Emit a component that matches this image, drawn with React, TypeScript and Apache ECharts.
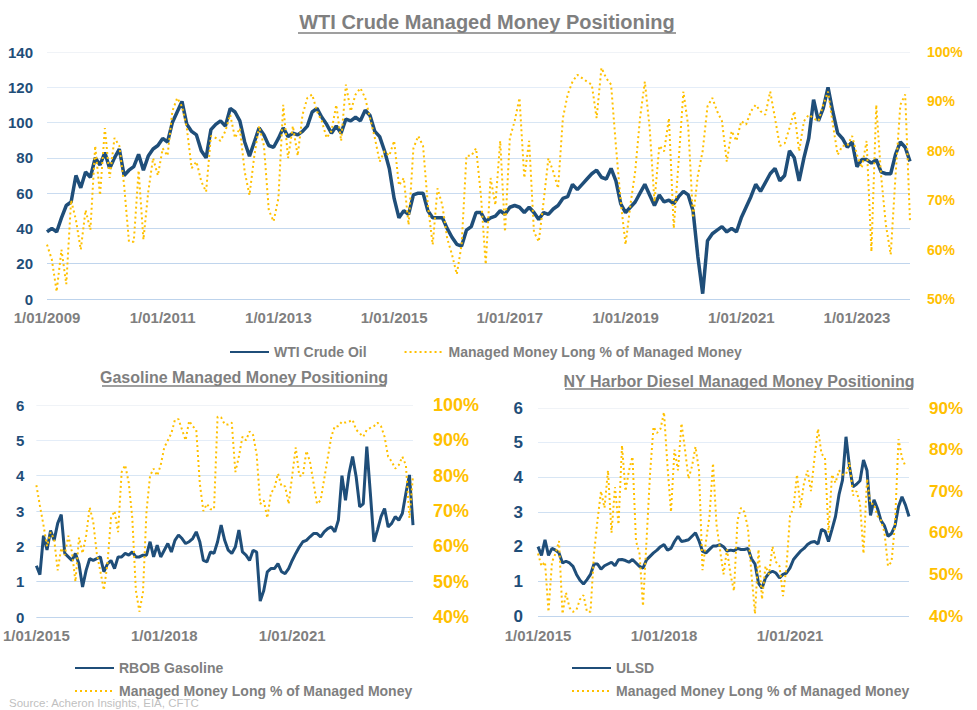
import React, { useEffect, useRef } from "react";
import * as echarts from "echarts";

// ---- WTI (monthly, Jan 2009 - Dec 2023) ----
const wtiPrice = [
  38, 40, 38, 46, 53, 55, 70, 63, 72, 69, 80, 76,
  83, 74, 80, 85, 70, 73, 75, 82, 73, 81, 85, 87,
  91, 89, 100, 106, 112, 99, 95, 93, 84, 80, 96, 99,
  101, 98, 108, 106, 101, 89, 81, 89, 97, 93, 87, 86,
  91, 97, 92, 94, 93, 95, 98, 106, 108, 103, 99, 94,
  98, 94, 102, 101, 103, 101, 107, 104, 95, 92, 84, 74,
  57, 46, 50, 48, 59, 60, 60, 50, 46, 46, 46, 40,
  35, 31, 30, 39, 41, 49, 49, 44, 46, 47, 50, 48,
  52, 53, 52, 49, 52, 49, 45, 49, 48, 51, 53, 57,
  58, 65, 62, 65, 68, 71, 73, 69, 68, 74, 67, 54,
  49, 52, 55, 60, 65, 59, 53, 59, 55, 56, 54, 58,
  61, 59, 50, 24, 3, 33, 37, 39, 41, 38, 40, 38,
  46, 52, 58, 65, 61, 66, 71, 74, 67, 70, 84, 80,
  67, 80, 91, 113, 101, 108, 120, 106, 94, 91, 86, 89,
  75, 79, 79, 77, 79, 72, 71, 71, 82, 89, 86, 78,
];
const wtiPct = [
  61, 58, 51.5, 60, 53, 70, 66, 60, 68, 64, 81, 71,
  84.6, 74.5, 82.6, 81, 73, 61.6, 61.6, 76, 62, 71.7, 78.5, 75,
  80.5, 79, 88, 90.7, 89, 84.6, 76.5, 77.8, 73.8, 71.7, 83, 82.6,
  82, 84, 87.3, 82.6, 84.6, 75.8, 71, 79, 85, 81, 68, 65.7,
  70.4, 89.3, 78.5, 85, 79, 87.3, 90.7, 91.4, 88, 86, 82.6, 84,
  89.3, 82, 93.4, 88, 91.4, 92.7, 90.7, 86.6, 82.6, 77.8, 79.9, 79,
  82, 73, 74.5, 65, 80.5, 83, 81, 69, 61, 72.4, 69, 62.3,
  59, 55, 61, 79, 79, 80.5, 71, 57, 74.5, 69, 82, 63.6,
  82.6, 86, 90.7, 74.5, 82, 63.6, 61.6, 69.7, 78.5, 75.8, 72.4, 86.6,
  91.4, 94, 95.4, 94.7, 94, 93.4, 86.6, 96.8, 94.7, 93.4, 81, 69.7,
  61, 69, 75.8, 86.6, 94, 84.6, 69.7, 81, 79.9, 86.6, 64.3, 77.8,
  92, 85, 66.4, 75, 80, 89, 90.7, 88, 86, 77.8, 84, 82,
  86, 85.3, 88, 89.3, 88, 87.3, 92, 86.6, 81, 81.5, 84.6, 88,
  79.9, 86, 87.3, 86.6, 86, 89.3, 92, 85.3, 79.2, 81, 81, 83,
  79.2, 76.5, 82, 59.6, 89.3, 75, 65, 59, 75, 89.3, 91.4, 65.7,
];

// ---- Gasoline (monthly, Jan 2015 - Nov 2023) ----
const rbobPrice = [
  1.45, 1.2, 2.3, 1.9, 2.45, 2.17, 2.65, 2.9, 1.8, 1.7, 1.6, 1.8,
  1.5, 0.85, 1.32, 1.65, 1.6, 1.65, 1.7, 1.28, 1.5, 1.6, 1.37, 1.7,
  1.7, 1.8, 1.75, 1.84, 1.7, 1.7, 1.75, 1.75, 2.13, 1.7, 2.03, 1.7,
  1.89, 2.08, 1.84, 2.17, 2.32, 2.22, 2.08, 2.13, 2.22, 2.41, 2.13, 1.6,
  1.56, 1.84, 1.8, 2.13, 2.6, 2.17, 1.89, 1.8, 1.98, 2.46, 1.84, 1.75,
  1.6, 1.89, 1.84, 0.45, 0.75, 1.28, 1.37, 1.37, 1.51, 1.28, 1.23, 1.37,
  1.6, 1.8, 1.98, 2.13, 2.17, 2.27, 2.36, 2.36, 2.27, 2.41, 2.5, 2.55,
  2.41, 2.74, 4.0, 3.3, 4.06, 4.54, 3.97, 3.12, 3.2, 4.82, 3.5, 2.13,
  2.46, 2.84, 3.07, 2.55, 2.65, 2.84, 2.74, 2.93, 3.5, 4.02, 2.6,
];
const rbobPct = [
  77.3, 71.5, 66, 60, 64, 62, 53.2, 59.5, 57.5, 63, 58.5, 50,
  62.5, 58, 63, 71, 67, 58, 53, 47.6, 55, 68, 70, 64,
  81, 83, 78, 68, 47.6, 41.5, 47, 70, 80, 82, 80, 83,
  88, 90, 92, 95.8, 96, 93, 90, 95.5, 94, 93, 77.8, 70,
  72, 70.5, 70.5, 96.7, 96.5, 94.5, 94.5, 95, 81, 85.4, 91, 90,
  92.5, 91.5, 86, 72, 73, 68, 75, 76.5, 80.6, 77, 77, 72,
  80, 88, 80, 80, 87, 84, 78, 72, 73, 79, 85, 91,
  94, 94, 95.3, 95, 95.3, 95.8, 93, 92, 91, 93, 93.5, 94,
  95, 94, 91, 85.4, 84, 82, 83, 85.4, 83, 68, 80,
];

// ---- NY Harbor diesel (monthly, Jan 2015 - Nov 2023) ----
const ulsdPrice = [
  2.0, 1.75, 2.2, 1.75, 1.95, 1.9, 1.82, 1.53, 1.58, 1.53, 1.43, 1.2,
  1.03, 0.92, 1.05, 1.2, 1.5, 1.5, 1.35, 1.45, 1.5, 1.55, 1.45, 1.62,
  1.63, 1.6, 1.55, 1.63, 1.53, 1.43, 1.38, 1.62, 1.72, 1.82, 1.9, 2.0,
  2.06, 1.9, 1.95, 2.15, 2.3, 2.15, 2.17, 2.2, 2.3, 2.4, 2.17, 1.87,
  1.82, 1.92, 2.02, 2.02, 2.06, 2.0, 1.87, 1.9, 1.88, 1.95, 1.92, 1.92,
  1.95, 1.65, 1.5, 0.95, 0.8, 1.1, 1.24, 1.29, 1.24, 1.1, 1.2, 1.24,
  1.39, 1.63, 1.75, 1.87, 1.95, 2.06, 2.13, 2.15, 2.08, 2.5, 2.45, 2.15,
  2.5, 2.87, 3.5, 3.92, 5.17, 4.3, 3.73, 3.8, 3.9, 4.5, 4.2, 2.9,
  3.35, 3.1, 2.75, 2.6, 2.3, 2.38, 2.6, 3.16, 3.44, 3.2, 2.87,
];
const ulsdPct = [
  55, 52, 53, 41, 53, 55, 58, 40.5, 45.6, 42, 41, 41.5,
  44, 45, 41, 41, 55, 63, 70, 66, 75, 60, 71, 62,
  81, 70, 75, 78.3, 58, 55, 42.4, 58, 74, 85.5, 84, 85,
  89, 76, 65, 80, 75, 86.3, 80, 73, 76, 80.7, 75, 51,
  58, 64, 76.7, 62, 56, 50, 56, 50, 46, 63, 66, 65,
  61, 50, 40.5, 56, 44, 52, 50, 56.7, 53, 52, 44.8, 52,
  64, 66, 74, 66, 72, 75, 70, 78, 85, 79, 78, 60,
  74, 72, 75, 74, 74, 77, 69, 70, 67, 55, 73, 67,
  67, 64, 63, 60, 52, 53, 62, 82.5, 78, 76, null,
];

const MM = "Managed Money Long % of Managed Money";
const TITLE_MAIN = "WTI Crude Managed Money Positioning";
const TITLE_GAS = "Gasoline Managed Money Positioning";
const TITLE_DSL = "NY Harbor Diesel Managed Money Positioning";
const SOURCE = "Source: Acheron Insights, EIA, CFTC";

function monthLabels(startYear: number, count: number): string[] {
  const out: string[] = [];
  for (let i = 0; i < count; i++) {
    const y = startYear + Math.floor(i / 12);
    const m = (i % 12) + 1;
    out.push(`1/${String(m).padStart(2, "0")}/${y}`);
  }
  return out;
}
const wtiDates = monthLabels(2009, wtiPrice.length);
const fuelDates = monthLabels(2015, rbobPrice.length);

const FONT = 'Arial, "Liberation Sans", Helvetica, sans-serif';
const BLUE = "#1f4e79";
const GOLD = "#ffc000";
const GREY = "#7f7f7f";

function splitColors(n: number): string[] {
  const base = ["#bdd3ec", "#c0d5ed", "#c4d8ee", "#c9dbf0", "#cfe0f2", "#d8e6f4", "#e4edf8", "#f0f3f7"];
  const arr = base.slice(base.length - n);
  arr[arr.length - 1] = "#f0f3f7";
  return arr;
}

function xAxis(gridIndex: number, data: string[], every: number, margin: number) {
  return {
    type: "category",
    gridIndex,
    data,
    boundaryGap: false,
    axisLine: { show: false },
    axisTick: { show: false },
    splitLine: { show: false },
    axisLabel: {
      interval: (i: number) => i % every === 0,
      color: GREY,
      fontSize: 15,
      fontWeight: "bold",
      fontFamily: FONT,
      margin,
    },
  };
}

function yLeft(gridIndex: number, max: number, interval: number, fontSize: number, margin: number) {
  const n = max / interval + 1;
  return {
    type: "value",
    gridIndex,
    position: "left",
    min: 0,
    max,
    interval,
    axisLine: { show: false },
    axisTick: { show: false },
    axisLabel: { color: BLUE, fontSize, fontWeight: "bold", fontFamily: FONT, margin },
    splitLine: { show: true, lineStyle: { color: splitColors(n), width: 1 } },
  };
}

function yRight(gridIndex: number, min: number, max: number, fontSize: number, margin: number) {
  return {
    type: "value",
    gridIndex,
    position: "right",
    min,
    max,
    interval: 10,
    axisLine: { show: false },
    axisTick: { show: false },
    axisLabel: { formatter: "{value}%", color: GOLD, fontSize, fontWeight: "bold", fontFamily: FONT, margin },
    splitLine: { show: false },
  };
}

function priceSeries(name: string, idx: number, data: (number | null)[], width: number) {
  return {
    type: "line",
    name,
    xAxisIndex: idx,
    yAxisIndex: idx * 2,
    data,
    symbol: "none",
    showSymbol: false,
    lineStyle: { color: BLUE, width },
    itemStyle: { color: BLUE },
    z: 2,
  };
}
function pctSeries(idx: number, data: (number | null)[]) {
  return {
    type: "line",
    name: MM,
    xAxisIndex: idx,
    yAxisIndex: idx * 2 + 1,
    data,
    symbol: "none",
    showSymbol: false,
    lineStyle: { color: GOLD, width: 2, type: [2, 3] },
    itemStyle: { color: GOLD },
    z: 3,
  };
}

const legendText = { color: GREY, fontSize: 14, fontWeight: "bold", fontFamily: FONT };
const legendCommon = {
  itemWidth: 39,
  itemHeight: 10,
  itemStyle: { opacity: 0 },
  textStyle: legendText,
};

function titleText(text: string, x: number, y: number, size: number) {
  return {
    type: "text",
    x,
    y,
    style: {
      text,
      fill: GREY,
      font: `bold ${size}px ${FONT}`,
      align: "center",
      verticalAlign: "middle",
      textAlign: "center",
      textVerticalAlign: "middle",
    },
  };
}
function underline(x1: number, x2: number, y: number) {
  return { type: "line", shape: { x1, y1: y, x2, y2: y }, style: { stroke: GREY, lineWidth: 1.3 } };
}

export default function App() {
  const ref = useRef<HTMLDivElement>(null);
  useEffect(() => {
    document.body.style.margin = "0";
    if (!ref.current) return;
    const chart = echarts.init(ref.current, undefined, { renderer: "svg" });
    chart.setOption({
      animation: false,
      backgroundColor: "#ffffff",
      textStyle: { fontFamily: FONT },
      grid: [
        { left: 47, top: 52, width: 863, height: 247 },
        { left: 29, top: 405, width: 384, height: 212 },
        { left: 538, top: 408, width: 371, height: 208 },
      ],
      xAxis: [xAxis(0, wtiDates, 24, 11), xAxis(1, fuelDates, 36, 11), xAxis(2, fuelDates, 36, 12)],
      yAxis: [
        yLeft(0, 140, 20, 15, 14),
        yRight(0, 50, 100, 14, 17),
        yLeft(1, 6, 1, 15, 12),
        yRight(1, 40, 100, 18, 20),
        yLeft(2, 6, 1, 17, 15),
        yRight(2, 40, 90, 17, 20),
      ],
      legend: [
        { ...legendCommon, top: 340, left: 224, itemGap: 37, data: ["WTI Crude Oil", MM] },
        { ...legendCommon, orient: "vertical", top: 656, left: 69, itemGap: 9, data: ["RBOB Gasoline", MM] },
        { ...legendCommon, orient: "vertical", top: 656, left: 566, itemGap: 9, data: ["ULSD", MM] },
      ],
      series: [
        priceSeries("WTI Crude Oil", 0, wtiPrice, 3.5),
        pctSeries(0, wtiPct),
        priceSeries("RBOB Gasoline", 1, rbobPrice, 3),
        pctSeries(1, rbobPct),
        priceSeries("ULSD", 2, ulsdPrice, 3),
        pctSeries(2, ulsdPct),
      ],
      graphic: [
        titleText(TITLE_MAIN, 487, 22, 20),
        underline(298, 676, 33),
        titleText(TITLE_GAS, 244, 377, 16),
        underline(102, 386, 386),
        titleText(TITLE_DSL, 739, 381, 16),
        underline(565, 913, 389),
        {
          type: "text",
          x: 9,
          y: 703,
          style: {
            text: SOURCE,
            fill: "#bfbfbf",
            font: `11.5px ${FONT}`,
            verticalAlign: "middle",
            textVerticalAlign: "middle",
          },
        },
      ],
    });
    return () => chart.dispose();
  }, []);
  return <div ref={ref} style={{ width: 977, height: 710 }} />;
}
